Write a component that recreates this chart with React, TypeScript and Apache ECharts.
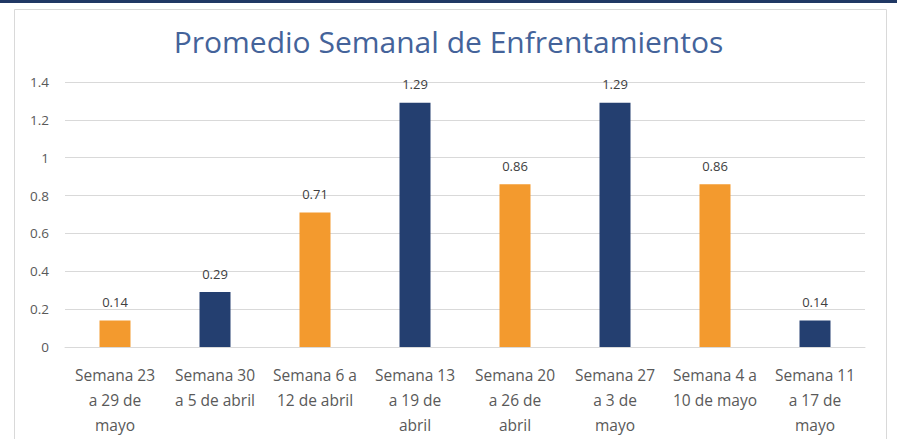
import React, { useEffect, useRef } from "react";
import * as echarts from "echarts";

const titleText = "Promedio Semanal de Enfrentamientos";
const categories = [
  "Semana 23\na 29 de\nmayo",
  "Semana 30\na 5 de abril",
  "Semana 6 a\n12 de abril",
  "Semana 13\na 19 de\nabril",
  "Semana 20\na 26 de\nabril",
  "Semana 27\na 3 de\nmayo",
  "Semana 4 a\n10 de mayo",
  "Semana 11\na 17 de\nmayo",
];
const values = [0.14, 0.29, 0.71, 1.29, 0.86, 1.29, 0.86, 0.14];
const barColors = ["#F39A2E", "#243F70", "#F39A2E", "#243F70", "#F39A2E", "#243F70", "#F39A2E", "#243F70"];
const yMin = 0;
const yMax = 1.4;
const yStep = 0.2;

export default function App() {
  const ref = useRef<HTMLDivElement>(null);
  useEffect(() => {
    document.body.style.margin = "0";
    const chart = echarts.init(ref.current!, undefined, { renderer: "svg" });
    chart.setOption({
      animation: false,
      backgroundColor: "#ffffff",
      graphic: [
        { type: "rect", left: 0, top: 0, shape: { width: 897, height: 3 }, style: { fill: "#203864" }, z: 10 },
        {
          type: "rect",
          shape: { x: 14.5, y: 9.5, width: 872, height: 460 },
          style: { fill: "none", stroke: "#D9D9D9", lineWidth: 1 },
          z: 0,
        },
      ],
      title: {
        text: titleText,
        left: "center",
        top: 21,
        textStyle: { fontFamily: "Open Sans", fontWeight: "normal", fontSize: 30, color: "#44639A" },
      },
      grid: { left: 65, right: 32, top: 82, bottom: 92, containLabel: false },
      xAxis: {
        type: "category",
        data: categories,
        axisLine: { show: true, lineStyle: { color: "#D9D9D9" } },
        axisTick: { show: false },
        axisLabel: {
          interval: 0,
          margin: 15,
          fontFamily: "Open Sans",
          fontSize: 15.5,
          lineHeight: 25,
          color: "#595959",
        },
      },
      yAxis: {
        type: "value",
        min: yMin,
        max: yMax,
        interval: yStep,
        axisLine: { show: false },
        axisTick: { show: false },
        splitLine: { lineStyle: { color: "#D9D9D9", width: 1 } },
        axisLabel: {
          margin: 16,
          fontFamily: "Open Sans",
          fontSize: 13.5,
          color: "#595959",
          formatter: (v: number) => String(Math.round(v * 10) / 10),
        },
      },
      series: [
        {
          type: "bar",
          barWidth: "31%",
          data: values.map((v, i) => ({ value: v, itemStyle: { color: barColors[i] } })),
          label: {
            show: true,
            position: "top",
            distance: 12,
            fontFamily: "Open Sans",
            fontSize: 13,
            color: "#404040",
            formatter: (p: any) => p.value.toFixed(2),
          },
        },
      ],
    });
    return () => chart.dispose();
  }, []);
  return (
    <div
      ref={ref}
      style={{ position: "absolute", left: 0, top: 0, width: 897, height: 439 }}
    />
  );
}
